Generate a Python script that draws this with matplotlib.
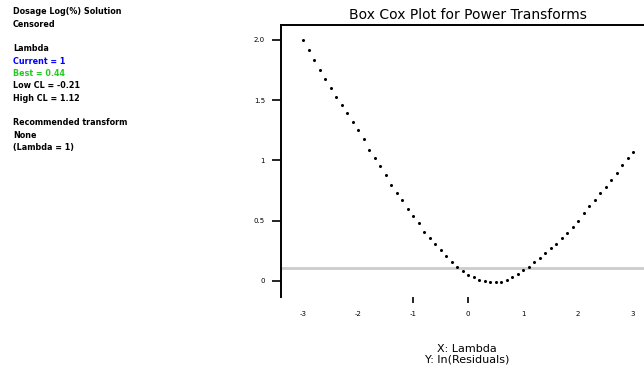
import matplotlib
matplotlib.use('Agg')
import matplotlib.pyplot as plt

# Box-Cox profile, ln(residual) against lambda
lam = [-3.0, -2.9, -2.8, -2.7, -2.6, -2.5, -2.4, -2.3, -2.2, -2.1,
       -2.0, -1.9, -1.8, -1.7, -1.6, -1.5, -1.4, -1.3, -1.2, -1.1,
       -1.0, -0.9, -0.8, -0.7, -0.6, -0.5, -0.4, -0.3, -0.2, -0.1,
       0.0, 0.1, 0.2, 0.3, 0.4, 0.5, 0.6, 0.7, 0.8, 0.9,
       1.0, 1.1, 1.2, 1.3, 1.4, 1.5, 1.6, 1.7, 1.8, 1.9,
       2.0, 2.1, 2.2, 2.3, 2.4, 2.5, 2.6, 2.7, 2.8, 2.9, 3.0]
ln_res = [2.00, 1.92, 1.83, 1.75, 1.68, 1.60, 1.53, 1.46, 1.39, 1.32,
          1.25, 1.18, 1.09, 1.02, 0.95, 0.88, 0.80, 0.73, 0.67, 0.60,
          0.54, 0.48, 0.41, 0.36, 0.31, 0.26, 0.21, 0.16, 0.12, 0.08,
          0.05, 0.03, 0.01, 0.00, -0.01, -0.01, -0.01, 0.01, 0.03, 0.06,
          0.09, 0.12, 0.16, 0.19, 0.23, 0.27, 0.31, 0.36, 0.40, 0.45,
          0.50, 0.56, 0.62, 0.67, 0.73, 0.78, 0.84, 0.90, 0.96, 1.02, 1.07]
ci_level = 0.108

xticks = [-3, -2, -1, 0, 1, 2, 3]
yticks = [0.0, 0.5, 1.0, 1.5, 2.0]
ylabels = ['0', '0.5', '1', '1.5', '2.0']
marked = [-1, 0]

info = [
    ('Dosage Log(%) Solution', 'black'),
    ('Censored', 'black'),
    (None, None),
    ('Lambda', 'black'),
    ('Current = 1', '#0000ff'),
    ('Best = 0.44', '#22cc22'),
    ('Low CL = -0.21', 'black'),
    ('High CL = 1.12', 'black'),
    (None, None),
    ('Recommended transform', 'black'),
    ('None', 'black'),
    ('(Lambda = 1)', 'black'),
]

W, H = 644, 370
fig = plt.figure(figsize=(W / 100, H / 100), dpi=100)
ax = fig.add_axes([281 / W, 1 - 297 / H, 363 / W, 272 / H])

ax.axhline(ci_level, color='#cccccc', lw=2, zorder=1)
ax.plot(lam, ln_res, ls='none', marker='o', ms=1.2, color='black', zorder=3)

ax.set_xlim(-3.4, 3.2)
ax.set_ylim(-0.133, 2.124)

ax.spines['right'].set_visible(False)
ax.spines['bottom'].set_visible(False)
ax.spines['left'].set_linewidth(1.4)
ax.spines['top'].set_linewidth(1.4)

ax.xaxis.remove_overlapping_locs = False
ax.set_xticks(xticks)
ax.set_xticklabels([str(t) for t in xticks])
ax.set_xticks(marked, minor=True)
ax.tick_params(axis='x', which='major', length=0, pad=10, labelsize=5)
ax.tick_params(axis='x', which='minor', length=4.5, width=1.2, direction='out')
ax.set_yticks(yticks)
ax.set_yticklabels(ylabels)
ax.tick_params(axis='y', length=6.5, width=1.2, pad=5, labelsize=5)

fig.text(468 / W, 1 - 15 / H, 'Box Cox Plot for Power Transforms',
         ha='center', va='center', fontsize=10)
fig.text(467 / W, 1 - 349 / H, 'X: Lambda', ha='center', va='center', fontsize=8)
fig.text(467 / W, 1 - 360 / H, 'Y: ln(Residuals)', ha='center', va='center', fontsize=8)

y = 12
for txt, col in info:
    if txt is not None:
        fig.text(13 / W, 1 - y / H, txt, ha='left', va='center',
                 fontsize=5.8, fontweight='bold', color=col)
    y += 12.3

fig.savefig('out.png', dpi=100)
